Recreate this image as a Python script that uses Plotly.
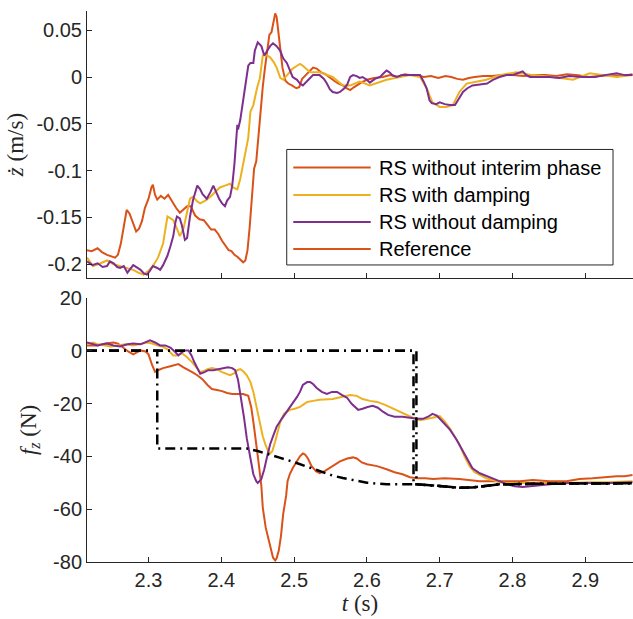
import plotly.graph_objects as go

# ---------------- data ----------------
# vertical velocity (m/s)
t_vel_interim = [2.2155, 2.222, 2.230, 2.236, 2.243, 2.249, 2.254, 2.258, 2.262, 2.266, 2.270, 2.274,
                 2.278, 2.283, 2.287, 2.291, 2.295, 2.300, 2.304, 2.306, 2.309, 2.312, 2.317, 2.322,
                 2.327, 2.332, 2.338, 2.343, 2.348, 2.353, 2.358, 2.364, 2.370, 2.376, 2.381, 2.386,
                 2.391, 2.396, 2.401, 2.406, 2.410, 2.414, 2.418, 2.422, 2.426, 2.430, 2.433, 2.436,
                 2.439, 2.442, 2.445, 2.448, 2.451, 2.454, 2.457, 2.460, 2.463, 2.466, 2.469, 2.472,
                 2.474, 2.476, 2.478, 2.481, 2.484, 2.488, 2.492, 2.497, 2.503, 2.507, 2.511, 2.516,
                 2.521, 2.526, 2.531, 2.537, 2.543, 2.549, 2.555, 2.561, 2.567, 2.572, 2.577, 2.582,
                 2.587, 2.592, 2.600, 2.610, 2.622, 2.632, 2.642, 2.652, 2.660, 2.669, 2.678, 2.688,
                 2.698, 2.708, 2.716, 2.724, 2.732, 2.740, 2.748, 2.760, 2.772, 2.785, 2.800, 2.815,
                 2.830, 2.845, 2.860, 2.875, 2.890, 2.905, 2.920, 2.935, 2.950, 2.9648]
v_interim = [-0.185, -0.186, -0.183, -0.187, -0.190, -0.192, -0.193, -0.190, -0.178, -0.160, -0.142, -0.146,
             -0.155, -0.165, -0.162, -0.154, -0.140, -0.130, -0.118, -0.115, -0.126, -0.131, -0.127, -0.130,
             -0.126, -0.133, -0.140, -0.145, -0.141, -0.138, -0.138, -0.148, -0.152, -0.153, -0.158, -0.163,
             -0.163, -0.168, -0.175, -0.180, -0.185, -0.186, -0.190, -0.192, -0.195, -0.198, -0.196, -0.185,
             -0.160, -0.128, -0.098, -0.090, -0.060, -0.035, -0.010, 0.010, 0.030, 0.045, 0.048, 0.063,
             0.068, 0.064, 0.050, 0.030, 0.010, -0.004, -0.007, -0.009, -0.012, -0.011, -0.002, 0.002,
             0.006, 0.010, 0.009, 0.005, 0.003, -0.001, -0.004, -0.007, -0.009, -0.012, -0.014, -0.011,
             -0.008, -0.006, -0.003, -0.001, 0.000, 0.002, 0.000, 0.003, 0.002, 0.002, 0.000, 0.001,
             -0.001, 0.001, 0.000, -0.002, -0.003, -0.001, 0.000, 0.001, 0.001, 0.002, 0.002, 0.001,
             0.002, 0.002, 0.001, 0.003, 0.002, 0.000, 0.001, 0.002, 0.001, 0.003]

t_vel_damp = [2.2155, 2.224, 2.234, 2.243, 2.252, 2.261, 2.271, 2.279, 2.286, 2.293, 2.300, 2.306,
              2.313, 2.320, 2.326, 2.330, 2.334, 2.339, 2.343, 2.348, 2.353, 2.357, 2.361, 2.367,
              2.371, 2.378, 2.385, 2.392, 2.398, 2.405, 2.412, 2.416, 2.422, 2.426, 2.430, 2.433,
              2.437, 2.440, 2.444, 2.449, 2.453, 2.457, 2.463, 2.467, 2.472, 2.476, 2.481, 2.485,
              2.490, 2.498, 2.504, 2.508, 2.512, 2.522, 2.535, 2.553, 2.567, 2.577, 2.590, 2.604,
              2.627, 2.659, 2.673, 2.682, 2.690, 2.700, 2.709, 2.718, 2.727, 2.737, 2.750, 2.764,
              2.782, 2.805, 2.828, 2.855, 2.883, 2.906, 2.943, 2.9648]
v_damp = [-0.193, -0.202, -0.199, -0.196, -0.200, -0.202, -0.204, -0.206, -0.209, -0.211, -0.207, -0.202,
          -0.193, -0.178, -0.149, -0.151, -0.153, -0.162, -0.170, -0.162, -0.143, -0.130, -0.128, -0.133,
          -0.135, -0.132, -0.128, -0.123, -0.118, -0.116, -0.114, -0.118, -0.120, -0.109, -0.093, -0.077,
          -0.065, -0.037, -0.030, -0.012, -0.001, 0.023, 0.023, 0.021, 0.016, 0.010, -0.001, -0.003,
          0.002, 0.009, 0.012, 0.014, 0.012, 0.005, 0.005, 0.000, -0.009, -0.009, -0.005, -0.009,
          -0.003, 0.002, 0.000, -0.012, -0.027, -0.032, -0.032, -0.030, -0.016, -0.007, -0.005, -0.003,
          0.002, 0.005, 0.002, 0.000, -0.003, 0.004, 0.000, 0.002]

t_vel_nodamp = [2.2155, 2.223, 2.230, 2.237, 2.243, 2.247, 2.252, 2.257, 2.261, 2.266, 2.271, 2.275,
                2.279, 2.285, 2.289, 2.294, 2.298, 2.302, 2.306, 2.312, 2.316, 2.320, 2.326, 2.330,
                2.334, 2.337, 2.339, 2.343, 2.346, 2.350, 2.353, 2.357, 2.361, 2.367, 2.371, 2.374,
                2.378, 2.380, 2.385, 2.389, 2.393, 2.397, 2.401, 2.405, 2.408, 2.412, 2.415, 2.418,
                2.422, 2.423, 2.426, 2.429, 2.433, 2.437, 2.440, 2.444, 2.446, 2.450, 2.455, 2.459,
                2.463, 2.467, 2.471, 2.476, 2.481, 2.485, 2.490, 2.494, 2.498, 2.504, 2.508, 2.512,
                2.518, 2.522, 2.526, 2.535, 2.541, 2.545, 2.549, 2.553, 2.559, 2.563, 2.569, 2.573,
                2.577, 2.581, 2.586, 2.590, 2.594, 2.600, 2.604, 2.611, 2.618, 2.623, 2.627, 2.631,
                2.635, 2.641, 2.648, 2.655, 2.663, 2.673, 2.678, 2.682, 2.686, 2.689, 2.695, 2.700,
                2.707, 2.714, 2.721, 2.726, 2.732, 2.738, 2.745, 2.755, 2.765, 2.773, 2.782, 2.792,
                2.800, 2.807, 2.814, 2.819, 2.824, 2.837, 2.851, 2.864, 2.878, 2.896, 2.913, 2.927,
                2.943, 2.954, 2.9648]
v_nodamp = [-0.197, -0.201, -0.199, -0.203, -0.202, -0.197, -0.199, -0.203, -0.204, -0.202, -0.209, -0.205,
            -0.201, -0.204, -0.206, -0.210, -0.211, -0.207, -0.202, -0.204, -0.206, -0.201, -0.191, -0.181,
            -0.170, -0.155, -0.149, -0.151, -0.159, -0.174, -0.172, -0.149, -0.132, -0.116, -0.120, -0.125,
            -0.128, -0.130, -0.123, -0.116, -0.123, -0.130, -0.135, -0.138, -0.132, -0.128, -0.116, -0.093,
            -0.051, -0.056, -0.046, -0.030, -0.009, 0.012, 0.015, 0.015, 0.028, 0.037, 0.033, 0.023,
            0.028, 0.033, 0.036, 0.033, 0.028, 0.020, 0.015, 0.007, 0.000, -0.003, -0.007, -0.009,
            -0.004, -0.001, 0.002, 0.002, -0.002, -0.007, -0.013, -0.016, -0.017, -0.016, -0.012, -0.008,
            0.000, 0.002, 0.001, -0.001, 0.000, -0.003, -0.006, -0.002, 0.000, 0.004, 0.007, 0.005,
            0.002, 0.000, 0.002, 0.002, 0.002, 0.002, -0.005, -0.012, -0.025, -0.028, -0.029, -0.027,
            -0.029, -0.030, -0.030, -0.023, -0.016, -0.012, -0.009, -0.008, -0.007, -0.003, 0.000, 0.002,
            0.002, 0.004, 0.006, 0.002, 0.000, 0.000, 0.000, -0.001, 0.001, 0.000, 0.000, 0.002,
            0.004, 0.002, 0.002]

# vertical contact force (N)
t_f_interim = [2.2155, 2.230, 2.241, 2.252, 2.258, 2.265, 2.272, 2.279, 2.285, 2.289, 2.296, 2.300,
               2.305, 2.309, 2.313, 2.320, 2.330, 2.337, 2.341, 2.348, 2.353, 2.360, 2.367, 2.374,
               2.381, 2.387, 2.394, 2.401, 2.408, 2.415, 2.422, 2.430, 2.437, 2.441, 2.444, 2.447,
               2.451, 2.455, 2.457, 2.461, 2.467, 2.471, 2.474, 2.476, 2.479, 2.482, 2.485, 2.489,
               2.491, 2.494, 2.498, 2.504, 2.508, 2.512, 2.515, 2.519, 2.524, 2.530, 2.535, 2.542,
               2.553, 2.563, 2.573, 2.581, 2.586, 2.593, 2.600, 2.614, 2.627, 2.638, 2.649, 2.659,
               2.669, 2.680, 2.691, 2.707, 2.727, 2.755, 2.782, 2.810, 2.828, 2.851, 2.874, 2.892,
               2.910, 2.926, 2.943, 2.954, 2.9648]
f_interim = [2.0, 2.0, 2.7, 3.1, 2.7, 1.2, -0.3, -1.4, -0.6, 0.1, -0.3, -1.4,
             -5.5, -8.0, -7.4, -6.6, -5.9, -5.5, -5.1, -6.3, -7.0, -8.1, -9.3, -10.8,
             -13.0, -14.5, -14.9, -15.3, -16.0, -16.4, -16.4, -16.4, -17.1, -21.3, -26.9, -34.4,
             -41.9, -51.2, -59.5, -67.0, -74.5, -78.3, -79.4, -78.6, -75.6, -70.0, -61.8, -55.0,
             -49.4, -46.8, -44.5, -41.5, -40.0, -38.9, -39.3, -40.8, -43.7, -45.6, -46.4, -45.6,
             -43.7, -41.9, -40.8, -40.4, -40.8, -42.3, -43.0, -43.7, -44.9, -46.0, -46.8, -47.9,
             -48.3, -48.3, -48.6, -48.3, -48.6, -49.4, -49.4, -49.4, -49.0, -49.4, -49.4, -48.6,
             -48.3, -47.9, -47.5, -47.5, -47.1]

t_f_damp = [2.2155, 2.224, 2.230, 2.238, 2.248, 2.258, 2.268, 2.279, 2.289, 2.298, 2.305, 2.312,
            2.319, 2.326, 2.334, 2.339, 2.346, 2.353, 2.360, 2.367, 2.371, 2.375, 2.381, 2.387,
            2.394, 2.401, 2.408, 2.412, 2.418, 2.422, 2.426, 2.430, 2.435, 2.440, 2.444, 2.449,
            2.453, 2.457, 2.461, 2.464, 2.467, 2.470, 2.474, 2.478, 2.481, 2.486, 2.490, 2.494,
            2.501, 2.508, 2.512, 2.518, 2.526, 2.535, 2.553, 2.567, 2.577, 2.586, 2.594, 2.604,
            2.614, 2.625, 2.636, 2.645, 2.655, 2.663, 2.673, 2.682, 2.690, 2.700, 2.707, 2.714,
            2.721, 2.727, 2.734, 2.741, 2.748, 2.755, 2.764, 2.773, 2.782, 2.792, 2.805, 2.819,
            2.837, 2.855, 2.878, 2.906, 2.933, 2.9648]
f_damp = [2.4, 3.1, 2.4, 2.0, 1.6, 2.0, 2.4, 2.0, 2.7, 3.1, 2.7, 2.0,
          1.6, 0.5, -1.8, -1.8, -1.0, -2.5, -4.4, -6.6, -8.1, -7.8, -7.0, -6.6,
          -7.0, -8.1, -8.9, -9.3, -8.5, -7.4, -7.0, -7.8, -9.3, -11.9, -15.6, -22.0,
          -28.0, -32.5, -35.9, -37.8, -38.9, -38.1, -34.4, -30.6, -26.9, -23.9, -23.1, -22.4,
          -22.0, -21.3, -20.5, -19.4, -19.0, -18.6, -18.3, -17.5, -16.8, -17.1, -18.3, -19.0,
          -19.4, -20.5, -22.0, -23.1, -24.3, -25.4, -26.3, -25.9, -25.4, -24.8, -26.9, -29.5,
          -32.5, -35.5, -40.0, -43.7, -46.0, -47.1, -48.3, -49.0, -49.8, -50.1, -50.1, -50.1,
          -50.1, -50.1, -50.1, -49.8, -49.8, -49.4]

t_f_nodamp = [2.2155, 2.223, 2.230, 2.237, 2.243, 2.252, 2.261, 2.271, 2.279, 2.289, 2.296, 2.302,
              2.309, 2.316, 2.323, 2.330, 2.337, 2.341, 2.346, 2.350, 2.355, 2.359, 2.363, 2.367,
              2.371, 2.377, 2.382, 2.389, 2.396, 2.401, 2.409, 2.415, 2.419, 2.423, 2.427, 2.431,
              2.435, 2.440, 2.444, 2.448, 2.450, 2.455, 2.459, 2.463, 2.467, 2.472, 2.476, 2.483,
              2.490, 2.497, 2.504, 2.508, 2.512, 2.518, 2.522, 2.526, 2.531, 2.538, 2.545, 2.552,
              2.559, 2.566, 2.573, 2.579, 2.588, 2.594, 2.601, 2.608, 2.615, 2.622, 2.629, 2.638,
              2.649, 2.659, 2.669, 2.677, 2.684, 2.690, 2.696, 2.704, 2.714, 2.723, 2.732, 2.739,
              2.745, 2.755, 2.764, 2.773, 2.782, 2.792, 2.803, 2.814, 2.823, 2.837, 2.855, 2.878,
              2.906, 2.933, 2.9648]
f_nodamp = [3.1, 2.4, 2.0, 2.4, 2.7, 2.0, 1.6, 2.4, 2.7, 2.4, 3.1, 3.9,
            3.1, 2.0, 2.0, 1.2, -0.6, -1.8, -0.6, 0.1, 0.1, -1.8, -4.4, -6.6,
            -8.7, -8.1, -7.4, -7.4, -7.0, -6.6, -6.3, -6.6, -7.4, -11.1, -17.5, -25.0,
            -33.2, -41.1, -46.8, -49.4, -50.1, -48.6, -44.9, -40.0, -35.5, -31.7, -28.8, -25.8,
            -23.1, -20.5, -17.5, -15.6, -13.0, -11.9, -11.9, -12.6, -14.1, -15.6, -16.4, -15.6,
            -15.6, -16.8, -17.9, -20.1, -22.4, -22.0, -21.3, -20.9, -21.6, -23.1, -24.3, -25.0,
            -25.0, -25.4, -25.8, -25.8, -25.0, -23.9, -24.6, -26.9, -29.9, -33.6, -38.1, -41.1,
            -44.5, -46.4, -47.5, -48.3, -49.4, -50.5, -51.3, -51.6, -51.3, -50.9, -50.5, -50.1,
            -50.1, -50.1, -49.8]

# reference force profiles (shared tail after the switch)
t_ref_tail = [2.435, 2.450, 2.467, 2.480, 2.498, 2.520, 2.535, 2.553, 2.567, 2.585, 2.600, 2.627,
              2.650, 2.669, 2.690, 2.710, 2.727, 2.745, 2.782, 2.828, 2.874, 2.9648]
f_ref_tail = [-37.0, -38.0, -39.3, -40.5, -42.0, -44.0, -45.6, -47.3, -48.2, -49.2, -50.0, -50.6,
              -50.6, -50.6, -51.0, -51.6, -51.9, -51.8, -50.6, -50.4, -50.3, -50.2]
t_switch_interim = 2.312
f_step_interim = -37.0
t_switch_damp = 2.664
t_switch_nodamp = 2.668
f_after_switch = -50.6

legend_labels = ["RS without interim phase", "RS with damping", "RS without damping", "Reference"]

# ---------------- styling ----------------
C_ORANGE = "#D95319"
C_YELLOW = "#EDB120"
C_PURPLE = "#7E2F8E"
AX = "#262626"
legend_colors = [C_ORANGE, C_YELLOW, C_PURPLE, C_ORANGE]
REF_DASH = "10px,5px,2px,5px"

fig = go.Figure()

for tt, vv, col in [(t_vel_interim, v_interim, C_ORANGE),
                    (t_vel_damp, v_damp, C_YELLOW),
                    (t_vel_nodamp, v_nodamp, C_PURPLE)]:
    fig.add_trace(go.Scatter(x=tt, y=vv, mode="lines", line=dict(color=col, width=2),
                             xaxis="x", yaxis="y", showlegend=False, hoverinfo="skip"))

for tt, ff, col in [(t_f_interim, f_interim, C_ORANGE),
                    (t_f_damp, f_damp, C_YELLOW),
                    (t_f_nodamp, f_nodamp, C_PURPLE)]:
    fig.add_trace(go.Scatter(x=tt, y=ff, mode="lines", line=dict(color=col, width=2),
                             xaxis="x2", yaxis="y2", showlegend=False, hoverinfo="skip"))

t0 = t_vel_interim[0]
# reference with immediate step, then ramp to the final load
ref_a_t = [t0, t_switch_interim, t_switch_interim] + t_ref_tail
ref_a_f = [0.0, 0.0, f_step_interim] + f_ref_tail
# references that hold zero force until the late switch
tail_after = [(t, f) for t, f in zip(t_ref_tail, f_ref_tail) if t > t_switch_nodamp]
for ts in (t_switch_damp, t_switch_nodamp):
    rt = [t0, ts, ts] + [p[0] for p in tail_after]
    rf = [0.0, 0.0, f_after_switch] + [p[1] for p in tail_after]
    fig.add_trace(go.Scatter(x=rt, y=rf, mode="lines",
                             line=dict(color="black", width=2.5, dash=REF_DASH),
                             xaxis="x2", yaxis="y2", showlegend=False, hoverinfo="skip"))
fig.add_trace(go.Scatter(x=ref_a_t, y=ref_a_f, mode="lines",
                         line=dict(color="black", width=2.5, dash=REF_DASH),
                         xaxis="x2", yaxis="y2", showlegend=False, hoverinfo="skip"))

# ---------------- axes ----------------
x_range = [2.2155, 2.9655]
x_ticks = [2.3, 2.4, 2.5, 2.6, 2.7, 2.8, 2.9]
tick_font = dict(family="Liberation Sans, Arial, sans-serif", size=20, color=AX)
label_font = dict(family="Liberation Serif, DejaVu Serif, serif", size=23, color=AX)

common_x = dict(range=x_range, tickvals=x_ticks, ticks="inside", ticklen=5, tickwidth=1,
                tickcolor=AX, showline=True, linecolor=AX, linewidth=1, showgrid=False,
                zeroline=False, tickfont=tick_font)
common_y = dict(ticks="inside", ticklen=5, tickwidth=1, tickcolor=AX, showline=True,
                linecolor=AX, linewidth=1, showgrid=False, zeroline=False, tickfont=tick_font)

vel_ticks = [0.05, 0, -0.05, -0.1, -0.15, -0.2]
vel_ticktext = ["0.05", "0", "-0.05", "-0.1", "-0.15", "-0.2"]
f_ticks = [20, 0, -20, -40, -60, -80]
f_ticktext = ["20", "0", "-20", "-40", "-60", "-80"]

fig.update_layout(
    width=633, height=619,
    margin=dict(l=87, r=0, t=5, b=57),
    paper_bgcolor="white", plot_bgcolor="white",
    xaxis=dict(common_x, domain=[0, 1], anchor="y", showticklabels=False),
    yaxis=dict(common_y, domain=[0.5153, 1], anchor="x", range=[-0.2148, 0.0705],
               tickvals=vel_ticks, ticktext=vel_ticktext,
               title=dict(text="<i>ż</i> (m/s)", font=label_font, standoff=6)),
    xaxis2=dict(common_x, domain=[0, 1], anchor="y2", ticktext=[str(v) for v in x_ticks],
                title=dict(text="<i>t</i> (s)", font=label_font, standoff=0)),
    yaxis2=dict(common_y, domain=[0, 0.4794], anchor="x2", range=[-80, 20],
                tickvals=f_ticks, ticktext=f_ticktext,
                title=dict(text="<i>f<sub>z</sub></i> (N)", font=label_font, standoff=10)),
)

# ---------------- legend (drawn in the upper panel) ----------------
box = dict(x0=0.3658, x1=0.9634, y0=0.5391, y1=0.7487)
fig.add_shape(type="rect", xref="paper", yref="paper", **box,
              fillcolor="white", line=dict(color=AX, width=1), layer="above")
row_y = [0.7158, 0.6661, 0.6171, 0.5682]
for lbl, col, yy in zip(legend_labels, legend_colors, row_y):
    fig.add_shape(type="line", xref="paper", yref="paper", x0=0.3778, x1=0.5196, y0=yy, y1=yy,
                  line=dict(color=col, width=2), layer="above")
    fig.add_annotation(xref="paper", yref="paper", x=0.5317, y=yy, text=lbl, showarrow=False,
                       xanchor="left", yanchor="middle",
                       font=dict(family="Liberation Sans, Arial, sans-serif", size=20, color="black"))

fig.write_html("out.html")
